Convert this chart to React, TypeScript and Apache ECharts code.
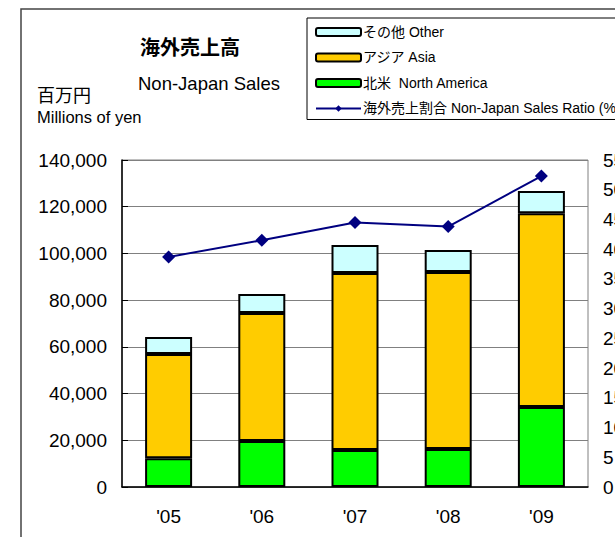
import React, { useEffect, useRef } from "react";
import * as echarts from "echarts";

const categories = ["'05", "'06", "'07", "'08", "'09"];
const northAmerica = [12300, 19700, 15800, 16300, 34200];
const asia = [44600, 54800, 75800, 75800, 83000];
const other = [7300, 8100, 12000, 9400, 9500];
const ratio = [38.7, 41.5, 44.5, 43.8, 52.3];

const NAME_OTHER = "その他 Other";
const NAME_ASIA = "アジア Asia";
const NAME_NA = "北米  North America";
const NAME_RATIO = "海外売上割合 Non-Japan Sales Ratio (%)";

const FONT = "'Liberation Sans', Arial, 'Noto Sans CJK JP', sans-serif";

export default function App() {
  const ref = useRef<HTMLDivElement>(null);
  useEffect(() => {
    if (!ref.current) return;
    const chart = echarts.init(ref.current, undefined, { renderer: "svg" });
    const barStyle = (color: string) => ({
      color,
      borderColor: "#000",
      borderWidth: 2,
    });
    chart.setOption({
      animation: false,
      textStyle: { fontFamily: FONT },
      graphic: [
        {
          type: "rect",
          shape: { x: 21, y: 9, width: 800, height: 700 },
          style: { fill: "none", stroke: "#444", lineWidth: 1.5 },
          silent: true,
        },
        {
          type: "text",
          x: 140,
          y: 46,
          style: {
            text: "海外売上高",
            font: "bold 20px 'Noto Sans CJK JP', sans-serif",
            fill: "#000",
            verticalAlign: "middle",
          },
        },
        {
          type: "text",
          x: 138,
          y: 83,
          style: {
            text: "Non-Japan Sales",
            font: "18.5px " + FONT,
            fill: "#000",
            verticalAlign: "middle",
          },
        },
        {
          type: "text",
          x: 37,
          y: 94,
          style: {
            text: "百万円",
            font: "18px 'Noto Sans CJK JP', sans-serif",
            fill: "#000",
            verticalAlign: "middle",
          },
        },
        {
          type: "text",
          x: 37,
          y: 117,
          style: {
            text: "Millions of yen",
            font: "16.5px " + FONT,
            fill: "#000",
            verticalAlign: "middle",
          },
        },
      ],
      legend: {
        orient: "vertical",
        left: 307,
        top: 18,
        padding: [7, 10, 4, 8],
        itemGap: 11.5,
        itemWidth: 45,
        itemHeight: 8,
        borderColor: "#000",
        borderWidth: 1,
        backgroundColor: "#fff",
        data: [NAME_OTHER, NAME_ASIA, NAME_NA, NAME_RATIO],
        textStyle: { fontSize: 14, color: "#000", fontFamily: FONT, padding: [0, 0, 0, -3] },
      },
      grid: {
        left: 122,
        right: 112,
        top: 160,
        bottom: 50,
        show: true,
        borderColor: "#808080",
        borderWidth: 1,
        backgroundColor: "#fff",
      },
      xAxis: {
        type: "category",
        data: categories,
        axisLine: { lineStyle: { color: "#000", width: 1.5 } },
        axisTick: { show: false },
        axisLabel: { fontSize: 19, color: "#000", margin: 20 },
      },
      yAxis: [
        {
          type: "value",
          min: 0,
          max: 140000,
          interval: 20000,
          axisLine: { show: true, lineStyle: { color: "#000", width: 1.5 } },
          axisTick: { show: true, inside: true, length: 6, lineStyle: { color: "#000" } },
          splitLine: { show: true, lineStyle: { color: "#808080", width: 1 } },
          axisLabel: {
            fontSize: 19,
            color: "#000",
            margin: 15,
            formatter: (v: number) => v.toLocaleString("en-US"),
          },
        },
        {
          type: "value",
          min: 0,
          max: 55,
          interval: 5,
          position: "right",
          axisLine: { show: false },
          axisTick: { show: false },
          splitLine: { show: false },
          axisLabel: { fontSize: 19, color: "#000", margin: 15 },
        },
      ],
      series: [
        {
          name: NAME_NA,
          type: "bar",
          stack: "sales",
          barWidth: 47,
          data: northAmerica,
          itemStyle: barStyle("#00FF00"),
        },
        {
          name: NAME_ASIA,
          type: "bar",
          stack: "sales",
          barWidth: 47,
          data: asia,
          itemStyle: barStyle("#FFCC00"),
        },
        {
          name: NAME_OTHER,
          type: "bar",
          stack: "sales",
          barWidth: 47,
          data: other,
          itemStyle: barStyle("#CCFFFF"),
        },
        {
          name: NAME_RATIO,
          type: "line",
          yAxisIndex: 1,
          data: ratio,
          symbol: "diamond",
          symbolSize: 13,
          lineStyle: { color: "#000080", width: 2 },
          itemStyle: { color: "#000080" },
        },
      ],
    });
    return () => chart.dispose();
  }, []);
  return (
    <div
      style={{
        position: "absolute",
        left: 0,
        top: 0,
        width: 615,
        height: 537,
        overflow: "hidden",
        background: "#fff",
      }}
    >
      <div ref={ref} style={{ width: 700, height: 537 }} />
    </div>
  );
}
